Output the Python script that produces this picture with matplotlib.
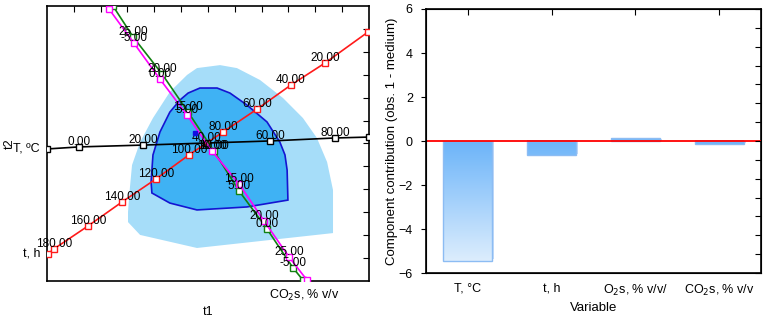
import numpy as np
import matplotlib.pyplot as plt
from matplotlib.colors import to_rgb
from matplotlib import font_manager

plt.rcParams['font.family'] = ['Liberation Sans', 'DejaVu Sans']

# narrow face for the point labels, if there is one
names = {f.name for f in font_manager.fontManager.ttflist}
narrow = 'Liberation Sans Narrow' if 'Liberation Sans Narrow' in names else 'Liberation Sans'
print(narrow)

# ---- projection plot (t1 / t2) ----
light_x = [-2.98, -2.53, -0.41, 4.66, 4.66, 4.44, 4.06, 3.54, 2.80, 1.94, 1.08, 0.45,
           -0.41, -0.78, -1.42, -2.05, -2.53, -2.83, -2.91, -2.98]
light_y = [-3.43, -3.99, -4.56, -3.91, -2.03, -0.81, 0.24, 1.11, 1.98, 2.77, 3.29, 3.42,
           3.29, 2.99, 2.25, 1.11, 0.06, -0.94, -1.94, -2.99]
dark_x = [-0.74, -0.30, 0.34, 0.82, 1.45, 2.20, 2.68, 2.87, 2.95, 2.98, 1.45, -0.41,
          -1.42, -2.09, -2.12, -2.05, -1.79, -1.42, -1.04]
dark_y = [2.20, 2.42, 2.42, 2.20, 1.68, 0.94, 0.06, -0.50, -1.16, -2.47, -2.77, -2.90,
          -2.60, -2.16, -1.68, -0.50, 0.50, 1.37, 1.90]

T_x = [-6.0, -4.81, -2.42, -0.04, 2.31, 4.73, 6.0]
T_y = [-0.24, -0.15, -0.07, 0.02, 0.11, 0.24, 0.28]
T_lab = ["", "0.00", "20.00", "40.00", "60.00", "80.00", ""]

th_x = [-5.96, -5.74, -4.47, -3.20, -1.94, -0.71, 0.56, 1.83, 3.09, 4.36, 5.96]
th_y = [-4.82, -4.60, -3.60, -2.55, -1.55, -0.50, 0.50, 1.50, 2.55, 3.51, 4.86]
th_lab = ["", "180.00", "160.00", "140.00", "120.00", "100.00", "80.00", "60.00",
          "40.00", "20.00", ""]

o2_x = [-3.69, -2.76, -1.79, -0.78, 0.15, 1.16, 2.09, 3.02, 3.69]
o2_y = [5.87, 4.38, 2.81, 1.24, -0.33, -1.77, -3.38, -4.95, -5.96]
o2_lab = ["", "-5.00", "0.00", "5.00", "10.00", "15.00", "20.00", "25.00", ""]

co2_x = [-3.54, -2.79, -1.71, -0.74, 0.22, 1.16, 2.20, 3.17, 3.54]
co2_y = [6.0, 4.65, 3.03, 1.37, -0.33, -2.07, -3.73, -5.43, -5.96]
co2_lab = ["", "25.00", "20.00", "15.00", "10.00", "5.00", "0.00", "-5.00", ""]

obs_x, obs_y = [-0.48], [0.46]

# ---- contribution bar chart ----
variables = ["T, °C", "t, h", "O$_2$s, % v/v/", "CO$_2$s, % v/v"]
contrib = [-5.45, -0.65, 0.15, -0.15]

fig = plt.figure(figsize=(7.65, 3.18), dpi=100)

ax = fig.add_axes([0.0614, 0.1164, 0.4209, 0.8648])
ax.fill(light_x, light_y, color='#a6ddf9', lw=0, zorder=1)
ax.fill(dark_x, dark_y, facecolor='#3fb2f4', edgecolor='#1414d2', lw=1.2, zorder=2)

lines = [(T_x, T_y, T_lab, 'black'),
         (th_x, th_y, th_lab, '#ff1a1a'),
         (co2_x, co2_y, co2_lab, '#118011'),
         (o2_x, o2_y, o2_lab, '#ff00ff')]
for xs, ys, labs, c in lines:
    ax.plot(xs, ys, color=c, lw=1.2, marker='s', ms=4, mfc='white', mec=c,
            mew=1.0, zorder=3)
    for x, y, s in zip(xs, ys, labs):
        if s:
            ax.annotate(s, (x, y), xytext=(0, 1.5), textcoords='offset points',
                        ha='center', va='baseline', fontsize=8.5, family=narrow,
                        zorder=4)

ax.plot(obs_x, obs_y, 's', color='#1010e0', ms=3, zorder=4)

ax.annotate("T, ºC", (-6, T_y[0]), xytext=(-5, 0), textcoords='offset points',
            ha='right', va='center', fontsize=9, annotation_clip=False)
ax.annotate("t, h", (-6, th_y[0]), xytext=(-5, 0), textcoords='offset points',
            ha='right', va='center', fontsize=9, annotation_clip=False)
ax.annotate("CO$_2$s, % v/v", (3.58, -6), xytext=(0, -5), textcoords='offset points',
            ha='center', va='top', fontsize=9, annotation_clip=False)

ax.set_xlim(-6, 6)
ax.set_ylim(-6, 6)
ax.set_xticks(range(-5, 6))
ax.set_yticks(range(-5, 6))
ax.tick_params(axis='x', bottom=False, top=True, direction='in', length=4,
               labelbottom=False)
ax.tick_params(axis='y', left=False, right=True, direction='in', length=4,
               labelleft=False)
for sp in ax.spines.values():
    sp.set_linewidth(1.2)
ax.set_xlabel("t1", fontsize=9)
ax.xaxis.set_label_coords(0.5, -0.09)
ax.set_ylabel("t2", fontsize=9)
ax.yaxis.set_label_coords(-0.098, 0.5)

# ---- right panel ----
bx = fig.add_axes([0.5569, 0.1415, 0.4379, 0.8302])
top_c = np.array(to_rgb('#6cb4f9'))
bot_c = np.array(to_rgb('#dcedfd'))
w = 0.585
for i, v in enumerate(contrib):
    x0, x1 = i - w / 2, i + w / 2
    # soft shadow on the right / bottom
    bx.bar(i + 0.025, v - 0.08 * np.sign(v), width=w, color='#c4dcf8', lw=0,
           zorder=1)
    if v < 0:
        f = np.linspace(0, abs(v) / 5.45, 100)[:, None]
        grad = (top_c * (1 - f) + bot_c * f).reshape(100, 1, 3)
        bx.imshow(grad, extent=[x0, x1, v, 0], aspect='auto', origin='upper',
                  zorder=2)
    else:
        bx.bar(i, v, width=w, color='#78baf8', lw=0, zorder=2)
    bx.bar(i, v, width=w, facecolor='none', edgecolor='#8cbcf3', lw=1.0, zorder=3)

bx.axhline(0, color='#ff0000', lw=1.3, zorder=4)
bx.set_xlim(-0.5, 3.5)
bx.set_ylim(-6, 6)
bx.set_yticks(range(-6, 7, 2))
bx.set_xticks(range(len(variables)))
bx.set_xticklabels(variables, fontsize=9)
bx.tick_params(axis='x', bottom=False, top=True, direction='in', length=4, pad=7)
bx.tick_params(axis='y', left=False, labelsize=9, pad=6)
for sp in bx.spines.values():
    sp.set_linewidth(1.2)
bx2 = bx.twinx()
bx2.set_ylim(-6, 6)
bx2.set_yticks(np.linspace(-6, 6, 15))
bx2.tick_params(axis='y', direction='in', length=4, labelright=False)
bx.set_xlabel("Variable", fontsize=9.5)
bx.xaxis.set_label_coords(0.5, -0.11)
bx.set_ylabel("Component contribution (obs. 1 - medium)", fontsize=9.5)
bx.yaxis.set_label_coords(-0.085, 0.5)

fig.savefig("out.png", dpi=100)
